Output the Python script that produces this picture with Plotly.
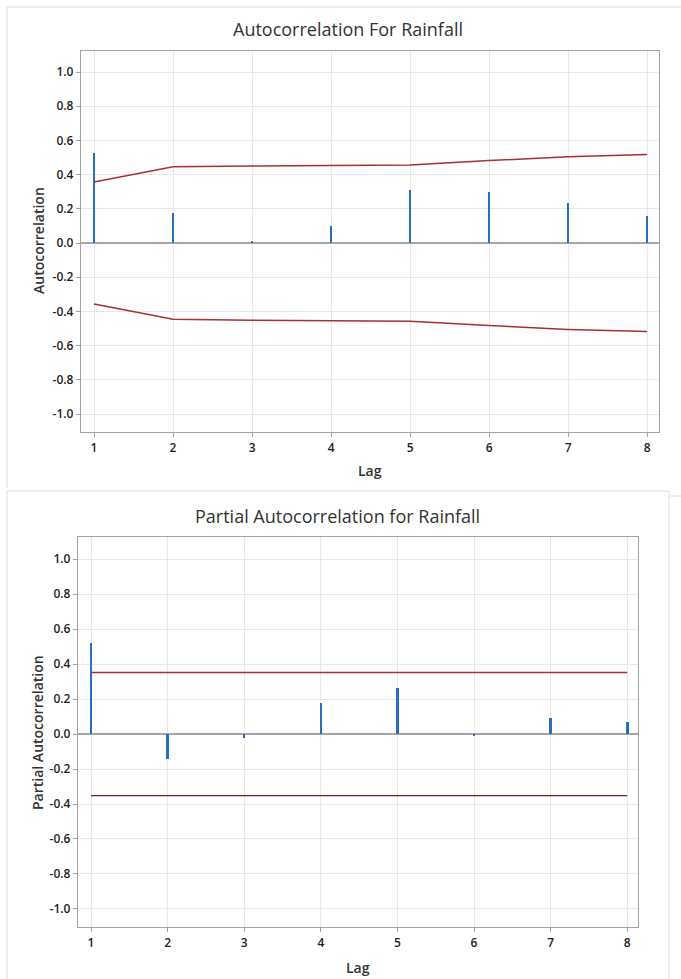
import plotly.graph_objects as go

W, H = 681, 979

lags = [1, 2, 3, 4, 5, 6, 7, 8]
acf_values = [0.527, 0.174, 0.012, 0.100, 0.310, 0.298, 0.236, 0.157]
acf_limits = [0.357, 0.446, 0.451, 0.452, 0.457, 0.482, 0.505, 0.518]
pacf_values = [0.522, -0.143, -0.023, 0.177, 0.262, -0.011, 0.092, 0.066]
pacf_limit = [0.352] * 8

ytick_vals = [1.0, 0.8, 0.6, 0.4, 0.2, 0.0, -0.2, -0.4, -0.6, -0.8, -1.0]
ytick_text = ["1.0", "0.8", "0.6", "0.4", "0.2", "0.0", "-0.2", "-0.4", "-0.6", "-0.8", "-1.0"]
xtick_text = [str(l) for l in lags]

BAR = "#2770C0"
LIM = "#A8302F"
LIM_DARK = "#7A1F1F"
GRID = "#E8E8E8"
FRAME = "#A3A3A3"
FONT = "Open Sans"

def px_x(x):
    return x / W

def px_y(y):
    return 1 - y / H

fig = go.Figure()

# Top: ACF
fig.add_trace(go.Bar(x=lags, y=acf_values, width=0.032, marker=dict(color=BAR, line=dict(width=0)),
                     xaxis="x", yaxis="y", showlegend=False))
fig.add_trace(go.Scatter(x=lags, y=acf_limits, mode="lines", line=dict(color=LIM, width=1.5),
                         xaxis="x", yaxis="y", showlegend=False))
fig.add_trace(go.Scatter(x=lags, y=[-v for v in acf_limits], mode="lines", line=dict(color=LIM, width=1.5),
                         xaxis="x", yaxis="y", showlegend=False))

# Bottom: PACF
fig.add_trace(go.Bar(x=lags, y=pacf_values, width=0.032, marker=dict(color=BAR, line=dict(width=0)),
                     xaxis="x2", yaxis="y2", showlegend=False))
fig.add_trace(go.Scatter(x=lags, y=pacf_limit, mode="lines", line=dict(color=LIM, width=1.5),
                         xaxis="x2", yaxis="y2", showlegend=False))
fig.add_trace(go.Scatter(x=lags, y=[-v for v in pacf_limit], mode="lines", line=dict(color=LIM_DARK, width=1.3),
                         xaxis="x2", yaxis="y2", showlegend=False))

tickfont = dict(family=FONT, size=12, color="#1E1E1E", weight=600)
xcommon = dict(tickvals=lags, ticktext=xtick_text, showgrid=True, gridcolor=GRID, gridwidth=1,
               showline=True, linecolor=FRAME, linewidth=1.3, mirror=True,
               ticks="outside", ticklen=4, tickcolor=FRAME,
               tickfont=tickfont, zeroline=False)
ycommon = dict(tickvals=ytick_vals, ticktext=ytick_text, showgrid=True, gridcolor=GRID, gridwidth=1,
               showline=True, linecolor=FRAME, linewidth=1.3, mirror=True,
               ticks="outside", ticklen=4, tickcolor=FRAME,
               tickfont=tickfont,
               zeroline=True, zerolinecolor="#A6A6A6", zerolinewidth=1.5)

fig.update_layout(
    width=W, height=H,
    margin=dict(l=0, r=0, t=0, b=0),
    paper_bgcolor="white", plot_bgcolor="white",
    bargap=0,
    xaxis=dict(domain=[px_x(81), px_x(659)], range=[0.835, 8.15], anchor="y", **xcommon),
    yaxis=dict(domain=[px_y(432), px_y(51)], range=[-1.105, 1.123], anchor="x", **ycommon),
    xaxis2=dict(domain=[px_x(78), px_x(638)], range=[0.83, 8.14], anchor="y2", **xcommon),
    yaxis2=dict(domain=[px_y(927), px_y(537)], range=[-1.103, 1.126], anchor="x2", **ycommon),
)

title_font = dict(family=FONT, size=18, color="#333333")
label_font = dict(family=FONT, size=14, color="#333333", weight=600)
annots = [
    dict(text="Autocorrelation For Rainfall", x=px_x(348), y=px_y(29), font=title_font),
    dict(text="Lag", x=px_x(370), y=px_y(470), font=label_font),
    dict(text="Autocorrelation", x=px_x(38), y=px_y(241), font=label_font, textangle=-90),
    dict(text="Partial Autocorrelation for Rainfall", x=px_x(337), y=px_y(516), font=title_font),
    dict(text="Lag", x=px_x(358), y=px_y(967), font=label_font),
    dict(text="Partial Autocorrelation", x=px_x(37), y=px_y(733), font=label_font, textangle=-90),
]
for a in annots:
    fig.add_annotation(xref="paper", yref="paper", showarrow=False, xanchor="center", yanchor="middle", **a)

BORDER = "#DCDCDC"
shapes = [
    # top panel border
    dict(x0=px_x(7), x1=px_x(7), y0=px_y(7), y1=px_y(488)),
    dict(x0=px_x(7), x1=px_x(681), y0=px_y(7), y1=px_y(7)),
    # bottom panel border
    dict(x0=px_x(7), x1=px_x(669), y0=px_y(491), y1=px_y(491)),
    dict(x0=px_x(7), x1=px_x(7), y0=px_y(491), y1=px_y(979)),
    dict(x0=px_x(669), x1=px_x(669), y0=px_y(491), y1=px_y(979)),
    dict(x0=px_x(669), x1=px_x(681), y0=px_y(496), y1=px_y(496)),
]
for s in shapes:
    fig.add_shape(type="line", xref="paper", yref="paper", line=dict(color=BORDER, width=1), **s)

fig.write_html("out.html")
